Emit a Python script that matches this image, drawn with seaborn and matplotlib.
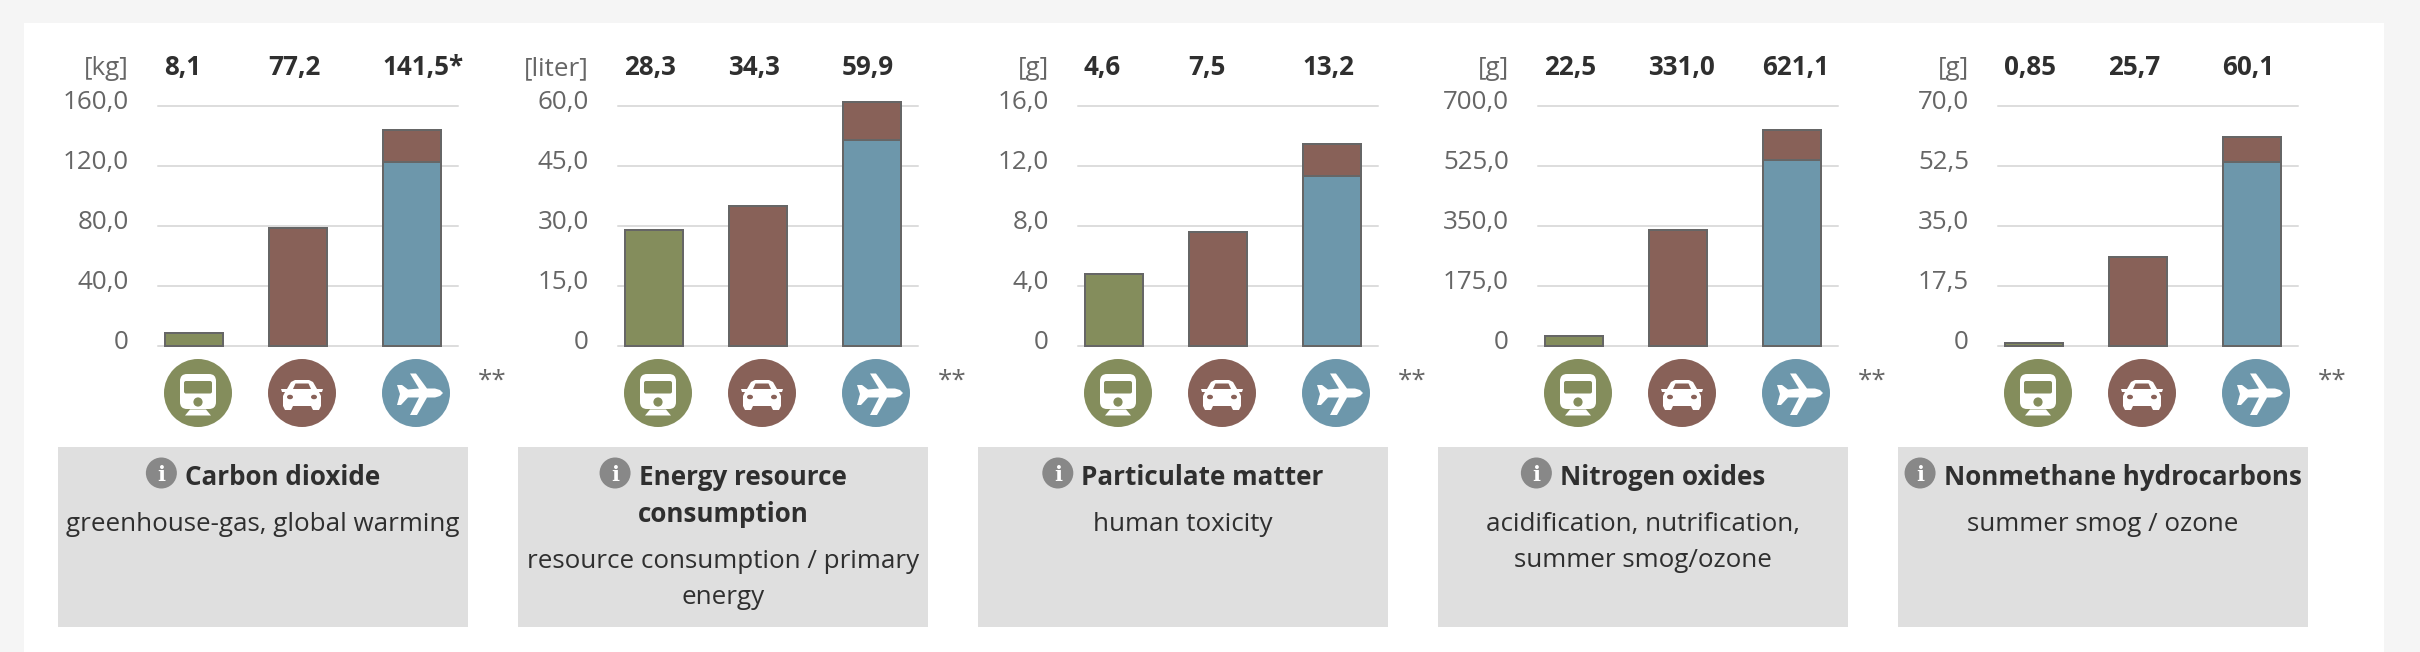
"""
plot.py

Five small bar panels comparing train, car and plane emissions per trip.
"""

import matplotlib
matplotlib.use("Agg")
import matplotlib.pyplot as plt
import matplotlib.transforms as mtrans
from matplotlib.patches import Circle, Ellipse, FancyBboxPatch, Polygon, Rectangle
import pandas as pd
import seaborn as sns

MODES = ["train", "car", "plane"]

UNITS = ["[kg]", "[liter]", "[g]", "[g]", "[g]"]
VALUE_LABELS = [
    ["8,1", "77,2", "141,5*"],
    ["28,3", "34,3", "59,9"],
    ["4,6", "7,5", "13,2"],
    ["22,5", "331,0", "621,1"],
    ["0,85", "25,7", "60,1"],
]
# heights as they are drawn, these differ a little from the printed numbers
TRAIN_BARS = [8.7, 28.9, 4.78, 29, 1.0]
CAR_BARS = [79, 34.9, 7.6, 338, 26.1]
PLANE_BARS = [144, 60.9, 13.45, 629, 61]
PLANE_LOWER = [122.6, 51.5, 11.33, 542, 53.6]

Y_TICKS = [
    [0, 40, 80, 120, 160],
    [0, 15, 30, 45, 60],
    [0, 4, 8, 12, 16],
    [0, 175, 350, 525, 700],
    [0, 17.5, 35, 52.5, 70],
]
TITLES = [
    ["Carbon dioxide"],
    ["Energy resource", "consumption"],
    ["Particulate matter"],
    ["Nitrogen oxides"],
    ["Nonmethane hydrocarbons"],
]
SUBTITLES = [
    ["greenhouse-gas, global warming"],
    ["resource consumption / primary", "energy"],
    ["human toxicity"],
    ["acidification, nutrification,", "summer smog/ozone"],
    ["summer smog / ozone"],
]

GREEN = "#848d5c"
BROWN = "#886158"
BLUE = "#6d97ab"
EDGE = "#666666"
GRID = "#dddddd"
TEXT_GREY = "#666666"
TEXT_DARK = "#2f2f2f"

W, H = 2420, 652
DPI = 100
PX = 72 / DPI  # one pixel in points
FONT_PX = 26

PANEL_STEP = 460
AX_LEFT, AX_WIDTH = 158, 300
AX_TOP, AX_BOTTOM = 106, 346
BAR_CENTERS = [36, 140, 254]  # inside the axes, which run 0..300
BAR_WIDTH = 58  # the 2 px edge brings it to 60 outside
ICON_CENTERS = [198, 302, 416]
ICON_Y = 393
ICON_R = 34
BOX_LEFT, BOX_WIDTH, BOX_TOP, BOX_HEIGHT = 58, 410, 447, 180


def draw_train(bg, cx, cy, color):
    body = FancyBboxPatch((cx - 18, cy - 19), 36, 35, boxstyle="round,pad=0,rounding_size=7", fc="white", ec="none")
    bg.add_patch(body)
    window = FancyBboxPatch((cx - 14, cy - 12), 28, 12.5, boxstyle="round,pad=0,rounding_size=2", fc=color, ec="none")
    bg.add_patch(window)
    bg.add_patch(Circle((cx, cy + 9), 4.6, fc=color, ec="none"))
    foot = [(cx - 8, cy + 16.5), (cx + 8, cy + 16.5), (cx + 13, cy + 22.5), (cx - 13, cy + 22.5)]
    bg.add_patch(Polygon(foot, fc="white", ec="none"))


def draw_car(bg, cx, cy, color):
    outline = [
        (-19, -4), (-15, -4), (-11, -11), (-7, -13), (7, -13), (11, -11), (15, -4), (19, -4),
        (21, -4), (20, -1), (17, -1), (19, 3), (19, 13), (17, 17), (11, 17), (9, 13),
        (-9, 13), (-11, 17), (-17, 17), (-19, 13), (-19, 3), (-17, -1), (-20, -1), (-21, -4),
    ]
    bg.add_patch(Polygon([(cx + a, cy + b) for a, b in outline], fc="white", ec="none"))
    roof = [(-9, -4), (-6.5, -9.5), (6.5, -9.5), (9, -4)]
    bg.add_patch(Polygon([(cx + a, cy + b) for a, b in roof], fc=color, ec="none"))
    bg.add_patch(Ellipse((cx - 12, cy + 4), 6, 4.5, fc=color, ec="none"))
    bg.add_patch(Ellipse((cx + 12, cy + 4), 6, 4.5, fc=color, ec="none"))


def draw_plane(bg, cx, cy, color):
    outline = [
        (-19, -8), (-14, -8), (-8, -3.5), (3, -4.5), (-6, -19.5), (0, -19.5), (11, -4.5), (19, -4.5),
        (24, -3), (27, 0), (24, 3), (19, 4.5), (11, 4.5), (1, 22), (-6, 22), (3, 4.5),
        (-8, 4.5), (-15, 12), (-19, 12), (-16, 1),
    ]
    bg.add_patch(Polygon([(cx + a, cy + b) for a, b in outline], fc="white", ec="none", joinstyle="round"))


ICONS = {"train": draw_train, "car": draw_car, "plane": draw_plane}
COLORS = {"train": GREEN, "car": BROWN, "plane": BLUE}


def tick_label(value):
    if value == 0:
        return "0"
    return f"{value:.1f}".replace(".", ",")


def draw_bars(fig, idx):
    offset = idx * PANEL_STEP
    ax = fig.add_axes([(AX_LEFT + offset) / W, 1 - AX_BOTTOM / H, AX_WIDTH / W, (AX_BOTTOM - AX_TOP) / H])
    ax.patch.set_alpha(0)

    df = pd.DataFrame({
        "mode": MODES,
        "x": BAR_CENTERS,
        "total": [TRAIN_BARS[idx], CAR_BARS[idx], PLANE_BARS[idx]],
        "lower": [TRAIN_BARS[idx], CAR_BARS[idx], PLANE_LOWER[idx]],
    })
    bar_args = dict(
        data=df, x="x", hue="mode", native_scale=True, dodge=False, legend=False, errorbar=None,
        width=BAR_WIDTH / (BAR_CENTERS[1] - BAR_CENTERS[0]), saturation=1,
        edgecolor=EDGE, linewidth=2 * PX, ax=ax,
    )
    # plane bar is two parts, the brown one stays visible above the blue one
    sns.barplot(y="total", palette={"train": GREEN, "car": BROWN, "plane": BROWN}, **bar_args)
    sns.barplot(y="lower", palette=COLORS, **bar_args)
    for bar in ax.patches:
        bar.set_clip_on(False)

    ticks = Y_TICKS[idx]
    ax.set_xlim(0, AX_WIDTH)
    ax.set_ylim(0, ticks[-1])
    ax.set_xticks([])
    ax.set_yticks(ticks)
    ax.set_yticklabels([tick_label(t) for t in ticks])
    ax.set_xlabel("")
    ax.set_ylabel("")
    ax.tick_params(axis="y", length=0, pad=29 * PX, labelsize=FONT_PX * PX, labelcolor=TEXT_GREY)
    ax.grid(axis="y", color=GRID, linewidth=2 * PX)
    ax.set_axisbelow(True)
    for line in ax.get_ygridlines():
        line.set_clip_on(False)
    shift = mtrans.ScaledTranslation(0, -3 / DPI, fig.dpi_scale_trans)
    for label in ax.get_yticklabels():
        label.set_verticalalignment("baseline")
        label.set_transform(label.get_transform() + shift)
    sns.despine(ax=ax, left=True, bottom=True)


def draw_caption(fig, bg, idx):
    offset = idx * PANEL_STEP
    center = BOX_LEFT + offset + BOX_WIDTH / 2
    bg.add_patch(Rectangle((BOX_LEFT + offset, BOX_TOP), BOX_WIDTH, BOX_HEIGHT, fc="#dfdfdf", ec="none"))

    y = 485
    renderer = fig.canvas.get_renderer()
    for n, line in enumerate(TITLES[idx]):
        title = bg.text(center, y, line, ha="center", va="baseline", fontsize=FONT_PX * PX, fontweight="bold", color=TEXT_DARK)
        if n == 0:
            # info badge sits in front of the first line, both centred together
            width = title.get_window_extent(renderer).width
            title.set_x(center + 19.5)
            icon_x = center + 19.5 - width / 2 - 8 - 15.5
            bg.add_patch(Circle((icon_x, 473), 15.5, fc="#888888", ec="none"))
            bg.text(icon_x, 481, "i", ha="center", va="baseline", fontsize=15, fontweight="bold",
                    family="DejaVu Serif", color="white")
        y += 37
    y += 9
    for line in SUBTITLES[idx]:
        bg.text(center, y, line, ha="center", va="baseline", fontsize=FONT_PX * PX, color=TEXT_DARK)
        y += 36


def main():
    sns.set_theme(style="white")
    plt.rcParams["font.family"] = ["Open Sans", "DejaVu Sans"]

    fig = plt.figure(figsize=(W / DPI, H / DPI), dpi=DPI, facecolor="#f5f5f5")
    bg = fig.add_axes([0, 0, 1, 1])
    bg.set_xlim(0, W)
    bg.set_ylim(H, 0)
    bg.axis("off")
    bg.add_patch(Rectangle((24, 23), 2360, H - 23, fc="white", ec="none"))

    for idx in range(len(UNITS)):
        offset = idx * PANEL_STEP
        draw_bars(fig, idx)
        bg.text(129 + offset, 75, UNITS[idx], ha="right", va="baseline", fontsize=FONT_PX * PX, color=TEXT_GREY)
        for n, mode in enumerate(MODES):
            left = ICON_CENTERS[n] - ICON_R + offset
            bg.text(left, 75, VALUE_LABELS[idx][n], ha="left", va="baseline", fontsize=FONT_PX * PX,
                    fontweight="bold", color=TEXT_DARK)
            bg.add_patch(Circle((ICON_CENTERS[n] + offset, ICON_Y), ICON_R, fc=COLORS[mode], ec="none"))
            ICONS[mode](bg, ICON_CENTERS[n] + offset, ICON_Y, COLORS[mode])
        bg.text(478 + offset, 388, "**", ha="left", va="baseline", fontsize=FONT_PX * PX, color=TEXT_GREY)
        draw_caption(fig, bg, idx)

    fig.savefig("out.png", dpi=DPI, facecolor=fig.get_facecolor())
    plt.close(fig)


if __name__ == "__main__":
    main()
